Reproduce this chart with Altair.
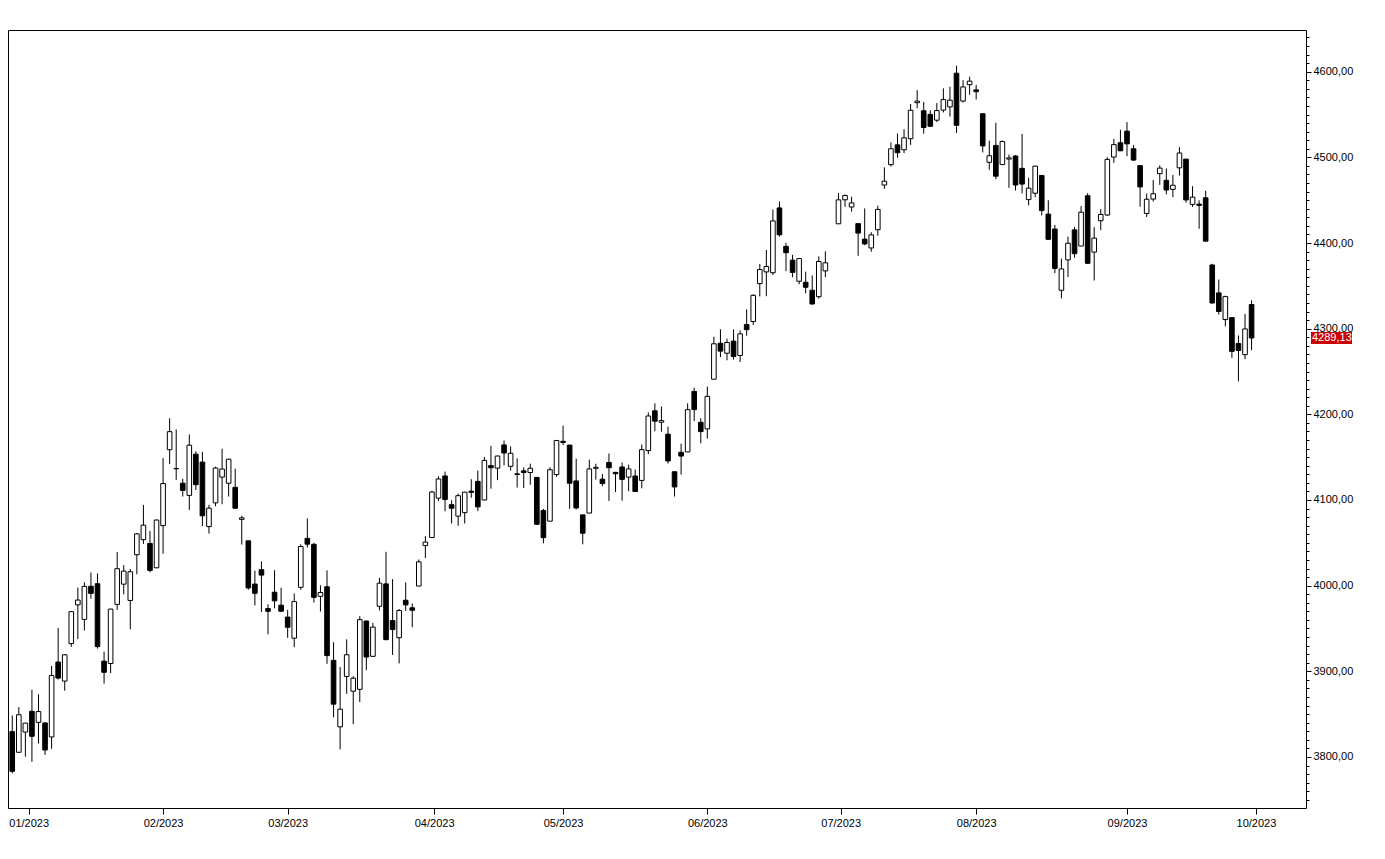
import altair as alt
import pandas as pd

dates = [
    "2022-12-28", "2022-12-29", "2022-12-30",
    "2023-01-03", "2023-01-04", "2023-01-05", "2023-01-06", "2023-01-09", "2023-01-10", "2023-01-11",
    "2023-01-12", "2023-01-13", "2023-01-17", "2023-01-18", "2023-01-19", "2023-01-20", "2023-01-23",
    "2023-01-24", "2023-01-25", "2023-01-26", "2023-01-27", "2023-01-30", "2023-01-31",
    "2023-02-01", "2023-02-02", "2023-02-03", "2023-02-06", "2023-02-07", "2023-02-08", "2023-02-09",
    "2023-02-10", "2023-02-13", "2023-02-14", "2023-02-15", "2023-02-16", "2023-02-17", "2023-02-21",
    "2023-02-22", "2023-02-23", "2023-02-24", "2023-02-27", "2023-02-28",
    "2023-03-01", "2023-03-02", "2023-03-03", "2023-03-06", "2023-03-07", "2023-03-08", "2023-03-09",
    "2023-03-10", "2023-03-13", "2023-03-14", "2023-03-15", "2023-03-16", "2023-03-17", "2023-03-20",
    "2023-03-21", "2023-03-22", "2023-03-23", "2023-03-24", "2023-03-27", "2023-03-28", "2023-03-29",
    "2023-03-30", "2023-03-31",
    "2023-04-03", "2023-04-04", "2023-04-05", "2023-04-06", "2023-04-10", "2023-04-11", "2023-04-12",
    "2023-04-13", "2023-04-14", "2023-04-17", "2023-04-18", "2023-04-19", "2023-04-20", "2023-04-21",
    "2023-04-24", "2023-04-25", "2023-04-26", "2023-04-27", "2023-04-28",
    "2023-05-01", "2023-05-02", "2023-05-03", "2023-05-04", "2023-05-05", "2023-05-08", "2023-05-09",
    "2023-05-10", "2023-05-11", "2023-05-12", "2023-05-15", "2023-05-16", "2023-05-17", "2023-05-18",
    "2023-05-19", "2023-05-22", "2023-05-23", "2023-05-24", "2023-05-25", "2023-05-26", "2023-05-30",
    "2023-05-31",
    "2023-06-01", "2023-06-02", "2023-06-05", "2023-06-06", "2023-06-07", "2023-06-08", "2023-06-09",
    "2023-06-12", "2023-06-13", "2023-06-14", "2023-06-15", "2023-06-16", "2023-06-20", "2023-06-21",
    "2023-06-22", "2023-06-23", "2023-06-26", "2023-06-27", "2023-06-28", "2023-06-29", "2023-06-30",
    "2023-07-03", "2023-07-05", "2023-07-06", "2023-07-07", "2023-07-10", "2023-07-11", "2023-07-12",
    "2023-07-13", "2023-07-14", "2023-07-17", "2023-07-18", "2023-07-19", "2023-07-20", "2023-07-21",
    "2023-07-24", "2023-07-25", "2023-07-26", "2023-07-27", "2023-07-28", "2023-07-31",
    "2023-08-01", "2023-08-02", "2023-08-03", "2023-08-04", "2023-08-07", "2023-08-08", "2023-08-09",
    "2023-08-10", "2023-08-11", "2023-08-14", "2023-08-15", "2023-08-16", "2023-08-17", "2023-08-18",
    "2023-08-21", "2023-08-22", "2023-08-23", "2023-08-24", "2023-08-25", "2023-08-28", "2023-08-29",
    "2023-08-30", "2023-08-31",
    "2023-09-01", "2023-09-05", "2023-09-06", "2023-09-07", "2023-09-08", "2023-09-11", "2023-09-12",
    "2023-09-13", "2023-09-14", "2023-09-15", "2023-09-18", "2023-09-19", "2023-09-20", "2023-09-21",
    "2023-09-22", "2023-09-25", "2023-09-26", "2023-09-27", "2023-09-28", "2023-09-29",
]

open_ = [
    3829.56, 3805.45, 3829.06,
    3853.29, 3840.36, 3839.74, 3823.37, 3910.82, 3888.57, 3932.35, 3977.57, 3960.60, 3999.28, 4002.25,
    3911.84, 3909.04, 3978.14, 4001.74, 3982.71, 4036.08, 4053.72, 4049.27, 4020.85,
    4070.07, 4158.68, 4136.69, 4119.57, 4105.35, 4153.47, 4144.25, 4068.92, 4096.62, 4126.70, 4119.50,
    4114.75, 4077.39, 4052.35, 4001.83, 4018.60, 3973.24, 3992.36, 3977.19,
    3963.34, 3938.68, 3998.02, 4055.15, 4048.26, 3987.55, 3998.66, 3912.77, 3835.12, 3894.01, 3876.74,
    3878.93, 3958.69, 3917.47, 3975.89, 4002.04, 3959.21, 3939.21, 3982.93, 3974.13, 3999.53, 4046.74,
    4056.18,
    4102.20, 4128.03, 4094.50, 4081.15, 4085.20, 4110.29, 4121.72, 4100.04, 4140.11, 4137.17, 4164.26,
    4139.33, 4130.48, 4134.00, 4132.07, 4126.43, 4087.78, 4075.29, 4129.63,
    4168.50, 4164.10, 4122.25, 4082.61, 4084.73, 4136.98, 4124.25, 4143.74, 4132.24, 4138.54, 4126.65,
    4127.95, 4122.85, 4157.68, 4204.15, 4190.78, 4176.80, 4132.96, 4155.71, 4156.16, 4226.71, 4190.74,
    4183.03, 4241.01, 4282.99, 4271.34, 4285.47, 4268.69, 4304.88, 4308.32, 4352.61, 4366.29, 4365.33,
    4440.95, 4396.11, 4380.01, 4355.40, 4354.17, 4344.84, 4337.36, 4367.48, None, 4422.44,
    4450.48, 4442.04, 4422.62, 4404.54, 4394.23, 4415.55, 4467.69, 4491.50, 4514.61, 4508.86, 4521.78,
    4563.87, 4554.38, 4550.16, 4543.39, 4555.19, 4558.96, 4598.26, 4565.75, 4584.82,
    4578.83, 4550.93, 4494.27, 4513.96, 4491.58, 4498.03, 4501.57, 4487.16, 4450.69, 4458.13, 4478.87,
    4433.79, 4416.32, 4344.88, 4380.28, 4415.33, 4396.44, 4455.16, 4389.38, 4426.03, 4432.75, 4500.34,
    4517.01,
    4530.60, 4510.06, 4490.35, 4434.55, 4451.30, 4480.98, 4473.27, 4462.65, 4487.78, 4497.98, 4445.13,
    4445.41, 4452.81, 4374.36, 4341.74, 4310.62, 4312.88, 4282.63, 4269.65, 4328.18,
]

high = [
    3848.32, 3858.19, 3839.85,
    3878.46, 3873.16, 3839.74, 3906.19, 3950.57, 3919.83, 3970.07, 3997.76, 4003.95, 4015.39, 4014.16,
    3922.94, 3972.96, 4039.31, 4023.92, 4019.55, 4061.57, 4094.21, 4063.85, 4077.16,
    4148.95, 4195.44, 4182.36, 4124.63, 4176.54, 4156.85, 4156.23, 4094.36, 4138.90, 4159.77, 4148.11,
    4136.54, 4081.51, 4052.35, 4017.37, 4028.30, 3978.25, 4018.05, 3997.50,
    3971.73, 3990.84, 4048.29, 4078.49, 4050.00, 4000.41, 4017.81, 3934.05, 3905.05, 3937.29, 3894.26,
    3964.46, 3958.91, 3956.62, 4009.08, 4039.49, 4007.66, 3972.74, 4003.83, 3979.20, 4030.59, 4057.85,
    4110.75,
    4127.66, 4133.13, 4099.69, 4107.32, 4109.50, 4124.26, 4134.37, 4150.26, 4163.19, 4151.72, 4169.48,
    4162.57, 4148.57, 4138.02, 4142.41, 4126.43, 4089.67, 4138.24, 4170.06,
    4186.92, 4164.10, 4148.30, 4082.61, 4147.02, 4142.30, 4130.35, 4154.28, 4132.80, 4143.74, 4141.25,
    4135.54, 4164.67, 4202.20, 4212.91, 4209.22, 4185.68, 4132.96, 4165.74, 4212.87, 4231.10, 4195.44,
    4232.43, 4290.67, 4299.28, 4288.33, 4299.19, 4298.01, 4322.62, 4340.13, 4375.37, 4391.82, 4439.20,
    4448.47, 4400.15, 4386.22, 4382.25, 4366.55, 4362.06, 4384.42, 4390.35, None, 4458.48,
    4456.46, 4454.06, 4422.62, 4440.39, 4412.60, 4443.64, 4488.34, 4517.38, 4527.76, 4532.85, 4562.30,
    4578.43, 4564.74, 4555.00, 4563.41, 4580.62, 4582.47, 4607.07, 4590.16, 4594.22,
    4584.62, 4550.93, 4519.49, 4540.34, 4519.84, 4503.31, 4502.44, 4527.37, 4476.23, 4490.33, 4478.87,
    4449.95, 4421.17, 4381.82, 4407.55, 4418.59, 4443.18, 4458.30, 4418.46, 4439.56, 4500.14, 4521.65,
    4532.26,
    4541.25, 4514.29, 4490.35, 4457.81, 4473.53, 4490.77, 4487.11, 4479.39, 4511.99, 4497.98, 4466.36,
    4449.85, 4461.03, 4375.70, 4357.40, 4338.51, 4313.01, 4292.07, 4317.27, 4333.15,
]

low = [
    3780.78, 3805.45, 3800.34,
    3794.33, 3815.77, 3802.42, 3809.56, 3890.42, 3877.29, 3928.54, 3937.56, 3947.67, 3984.57, 3926.59,
    3885.54, 3897.86, 3971.64, 3989.79, 3949.06, 4013.29, 4048.70, 4015.55, 4020.44,
    4037.20, 4141.88, 4123.36, 4103.98, 4088.39, 4111.67, 4069.67, 4060.79, 4092.67, 4095.01, 4103.98,
    4089.49, 4047.95, 3995.19, 3976.90, 3969.19, 3943.08, 3973.55, 3968.98,
    3939.05, 3928.16, 3995.17, 4044.61, 3980.31, 3969.76, 3908.70, 3846.32, 3808.86, 3873.63, 3838.24,
    3864.11, 3901.27, 3916.89, 3971.19, 3936.17, 3919.05, 3909.16, 3970.49, 3951.53, 3999.53, 4032.10,
    4056.18,
    4098.79, 4086.87, 4072.56, 4069.84, 4072.55, 4102.61, 4086.94, 4099.40, 4113.20, 4123.18, 4140.36,
    4134.49, 4114.57, 4113.86, 4117.77, 4071.38, 4049.35, 4075.29, 4127.18,
    4164.12, 4089.72, 4088.86, 4048.28, 4084.73, 4123.81, 4116.06, 4098.92, 4109.29, 4099.12, 4110.27,
    4109.86, 4113.62, 4153.50, 4180.20, 4179.68, 4142.54, 4103.98, 4129.73, 4156.16, 4192.18, 4166.15,
    4171.64, 4241.01, 4266.82, 4263.09, 4263.96, 4261.07, 4291.70, 4304.37, 4337.66, 4337.85, 4362.60,
    4407.44, 4367.19, 4360.14, 4351.82, 4341.34, 4328.08, 4335.00, 4360.22, None, 4422.44,
    4442.29, 4436.61, 4385.05, 4397.40, 4389.92, 4408.46, 4463.23, 4489.36, 4499.56, 4504.90, 4514.59,
    4557.48, 4527.56, 4535.79, 4541.29, 4552.42, 4547.58, 4528.56, 4564.01, 4573.14,
    4567.53, 4505.75, 4485.54, 4474.55, 4491.15, 4464.39, 4461.33, 4457.92, 4443.98, 4453.44, 4432.19,
    4403.55, 4364.83, 4335.31, 4360.30, 4382.77, 4396.44, 4375.55, 4356.29, 4414.98, 4431.68, 4493.59,
    4507.39,
    4501.35, 4496.01, 4442.38, 4430.46, 4448.38, 4467.89, 4456.83, 4453.52, 4478.69, 4447.21, 4442.11,
    4416.61, 4401.38, 4329.17, 4316.49, 4302.70, 4265.98, 4238.63, 4264.38, 4274.86,
]

close = [
    3783.22, 3849.28, 3839.50,
    3824.14, 3852.97, 3808.10, 3895.08, 3892.09, 3919.25, 3969.61, 3983.17, 3999.09, 3990.97, 3928.86,
    3898.85, 3972.61, 4019.81, 4016.95, 4016.22, 4060.43, 4070.56, 4017.77, 4076.60,
    4119.21, 4179.76, 4136.48, 4111.08, 4164.00, 4117.86, 4081.50, 4090.46, 4137.29, 4136.13, 4147.60,
    4090.41, 4079.09, 3997.34, 3991.05, 4012.32, 3970.04, 3982.24, 3970.15,
    3951.39, 3981.35, 4045.64, 4048.42, 3986.37, 3992.01, 3918.32, 3861.59, 3855.76, 3919.29, 3891.93,
    3960.28, 3916.64, 3951.57, 4002.87, 3936.97, 3948.72, 3970.99, 3977.53, 3971.27, 4027.81, 4050.83,
    4109.31,
    4124.51, 4100.60, 4090.38, 4105.02, 4109.11, 4108.94, 4091.95, 4146.22, 4137.64, 4151.32, 4154.87,
    4154.52, 4129.79, 4132.10, 4137.04, 4071.63, 4055.99, 4135.35, 4169.48,
    4167.20, 4119.58, 4090.75, 4061.22, 4136.25, 4138.12, 4119.17, 4137.64, 4130.62, 4124.08, 4136.28,
    4109.90, 4158.77, 4198.05, 4191.98, 4192.63, 4145.58, 4115.24, 4151.28, 4205.45, 4205.52, 4179.83,
    4221.02, 4282.37, 4273.79, 4283.85, 4267.52, 4293.93, 4298.86, 4338.93, 4369.01, 4372.59, 4425.84,
    4409.59, 4388.71, 4365.69, 4381.89, 4348.33, 4328.82, 4378.41, 4376.86, None, 4450.38,
    4455.59, 4446.82, 4411.59, 4398.95, 4409.53, 4439.26, 4472.16, 4510.04, 4505.42, 4522.79, 4554.98,
    4565.72, 4534.87, 4536.34, 4554.64, 4567.46, 4566.75, 4537.41, 4582.23, 4588.96,
    4576.73, 4513.39, 4501.89, 4478.03, 4518.44, 4499.38, 4467.71, 4468.83, 4464.05, 4489.72, 4437.86,
    4404.33, 4370.36, 4369.71, 4399.77, 4387.55, 4436.01, 4376.31, 4405.71, 4433.31, 4497.63, 4514.87,
    4507.66,
    4515.77, 4496.83, 4465.48, 4451.14, 4457.49, 4487.46, 4461.90, 4467.44, 4505.10, 4450.32, 4453.53,
    4443.95, 4402.20, 4330.00, 4320.06, 4337.44, 4273.53, 4274.51, 4299.70, 4289.13,
]

month_starts = ["2023-01-01", "2023-02-01", "2023-03-01", "2023-04-01", "2023-05-01",
                "2023-06-01", "2023-07-01", "2023-08-01", "2023-09-01", "2023-10-01"]
month_labels = ["01/2023", "02/2023", "03/2023", "04/2023", "05/2023",
                "06/2023", "07/2023", "08/2023", "09/2023", "10/2023"]

# ---- build table ----
df = pd.DataFrame({"date": pd.to_datetime(dates), "open": open_, "high": high,
                   "low": low, "close": close})
df["idx"] = range(len(df))
df = df.dropna().reset_index(drop=True)
df["up"] = (df["close"] >= df["open"]).map({True: "up", False: "down"})
df["date"] = df["date"].dt.strftime("%Y-%m-%d")

# month tick positions on the trading-day axis (calendar interpolation)
all_dates = list(pd.to_datetime(dates)) + [pd.to_datetime(dates[-1]) + pd.offsets.BDay(1)]
tick_pos = []
for ms in month_starts:
    m = pd.Timestamp(ms)
    b = next(i for i, d in enumerate(all_dates) if d >= m)
    if all_dates[b] == m:
        tick_pos.append(float(b))
    else:
        a = b - 1
        frac = (m - all_dates[a]).days / (all_dates[b] - all_dates[a]).days
        tick_pos.append(round(a + frac, 4))

label_expr = ""
for p, lab in zip(tick_pos, month_labels):
    label_expr += f"abs(datum.value - {p}) < 0.01 ? '{lab}' : "
label_expr += "''"

W, H = 1298, 778
FONT = "Liberation Sans"

xscale = alt.Scale(domain=[-0.65, 197.3], nice=False, zero=False, padding=0)
yscale = alt.Scale(domain=[3740.4, 4648.7], nice=False, zero=False, padding=0)

xaxis = alt.Axis(values=tick_pos, labelExpr=label_expr, title=None, grid=False, domain=False,
                 tickSize=6, tickColor="black", labelPadding=3, labelFont=FONT, labelFontSize=11,
                 labelColor="black", labelOverlap=False, labelFlush=False)
yaxis = alt.Axis(orient="right", values=list(range(3750, 4641, 10)), title=None, grid=False,
                 domain=False,
                 tickSize={"condition": {"test": "datum.value % 100 === 0", "value": 5}, "value": 3},
                 tickColor="black", labelPadding=2, labelFont=FONT, labelFontSize=11,
                 labelColor="black", labelOverlap=False,
                 labelExpr="datum.value % 100 === 0 ? replace(format(datum.value, '.2f'), '.', ',') : ''")

base = alt.Chart(df)

wicks = base.mark_rule(color="black", strokeWidth=1).encode(
    x=alt.X("idx:Q", scale=xscale, axis=xaxis),
    y=alt.Y("low:Q", scale=yscale, axis=yaxis),
    y2="high:Q",
)

bodies = base.mark_bar(width=4.6, stroke="black", strokeWidth=1).encode(
    x=alt.X("idx:Q", scale=xscale, axis=xaxis),
    y=alt.Y("open:Q", scale=yscale, axis=yaxis),
    y2="close:Q",
    fill=alt.Fill("up:N", scale=alt.Scale(domain=["up", "down"], range=["white", "black"]),
                  legend=None),
)

last = pd.DataFrame({"v": [close[-1]],
                     "t": [f"{close[-1]:.2f}".replace(".", ",")]})

tag_box = alt.Chart(last).mark_rule(color="#cc0000", strokeWidth=12, strokeCap="butt").encode(
    y=alt.Y("v:Q", scale=yscale, axis=yaxis),
    x=alt.value(W + 5),
    x2=alt.value(W + 46),
)
tag_text = alt.Chart(last).mark_text(color="white", font=FONT, fontSize=11, align="left",
                                     baseline="middle").encode(
    y=alt.Y("v:Q", scale=yscale, axis=yaxis),
    x=alt.value(W + 6),
    text="t:N",
)

chart = (
    alt.layer(wicks, bodies, tag_box, tag_text)
    .properties(width=W, height=H,
                autosize=alt.AutoSizeParams(type="none"),
                padding={"left": 0, "top": 22, "right": 66, "bottom": 40},
                background="white")
    .configure_view(stroke="black", strokeWidth=1)
)

chart.save("out.html", embed_options={"renderer": "svg", "actions": False})
